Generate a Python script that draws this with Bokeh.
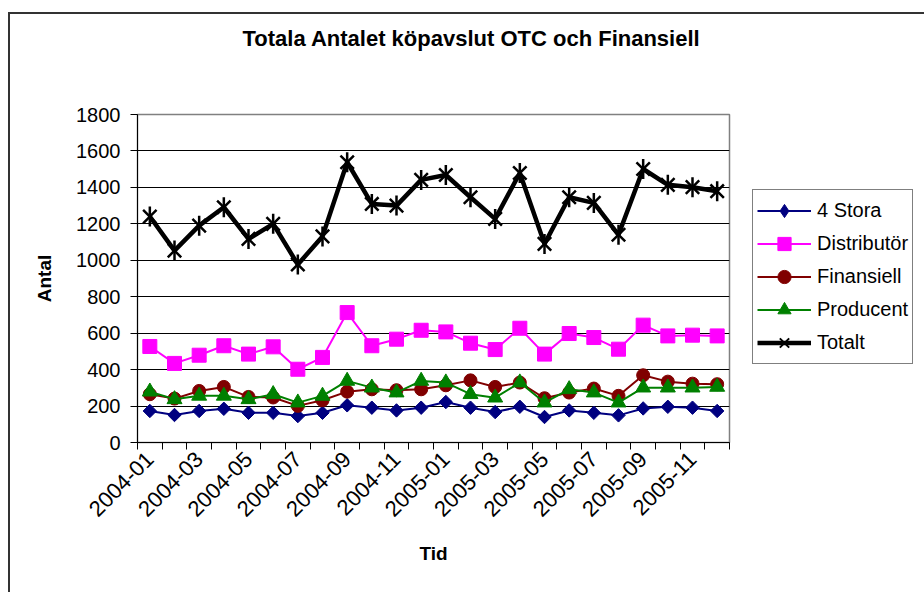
import math
from bokeh.plotting import figure
from bokeh.layouts import row
from bokeh.models import (Range1d, FixedTicker, Legend, LegendItem, Title,
                          ColumnDataSource)
from bokeh.embed import file_html
from bokeh.resources import INLINE

months = ["2004-01", "2004-02", "2004-03", "2004-04", "2004-05", "2004-06",
          "2004-07", "2004-08", "2004-09", "2004-10", "2004-11", "2004-12",
          "2005-01", "2005-02", "2005-03", "2005-04", "2005-05", "2005-06",
          "2005-07", "2005-08", "2005-09", "2005-10", "2005-11", "2005-12"]

stora = [173, 151, 173, 185, 163, 163, 145, 163, 204, 191, 176, 191,
         222, 191, 167, 196, 140, 176, 163, 149, 187, 196, 191, 173]
distributor = [527, 434, 479, 531, 485, 525, 402, 467, 713, 531, 567, 616,
               607, 545, 510, 627, 485, 598, 576, 512, 644, 585, 589, 585]
finansiell = [265, 241, 283, 305, 250, 247, 201, 232, 279, 292, 287, 292,
              314, 341, 305, 329, 243, 274, 296, 256, 369, 334, 323, 320]
producent = [279, 237, 256, 256, 237, 265, 219, 256, 338, 301, 274, 338,
             329, 265, 246, 329, 219, 292, 274, 219, 301, 301, 301, 305]
totalt = [1240, 1053, 1190, 1291, 1117, 1200, 977, 1131, 1538, 1309, 1300, 1441,
          1468, 1346, 1227, 1479, 1090, 1346, 1315, 1140, 1501, 1414, 1401, 1379]

series_names = ["4 Stora", "Distributör", "Finansiell", "Producent", "Totalt"]
y_ticks = [0, 200, 400, 600, 800, 1000, 1200, 1400, 1600, 1800]
tick_labels = months[::2]

FONT = "Liberation Sans"
BORDER = "#333333"

xs = [i + 0.5 for i in range(len(months))]
src = ColumnDataSource(dict(x=xs, stora=stora, distributor=distributor,
                            finansiell=finansiell, producent=producent,
                            totalt=totalt))

# ---------------- main chart ----------------
p = figure(width=752, height=592, output_backend="svg", toolbar_location=None,
           title=None,
           x_range=Range1d(0, len(months)), y_range=Range1d(0, 1800),
           min_border_left=137, min_border_right=23,
           min_border_top=114, min_border_bottom=150)

p.background_fill_color = "white"
p.border_fill_color = None
p.styles = {
    "background": f"linear-gradient({BORDER}, {BORDER}) 8px 12px / 2px 100% no-repeat, "
                  f"linear-gradient({BORDER}, {BORDER}) 8px 12px / 100% 2px no-repeat, "
                  "#ffffff"
}
p.outline_line_color = "#808080"
p.outline_line_width = 1.5

# title: a thin spacer next to the frame, the real title above it
spacer = Title(text=" ", text_font_size="1px", standoff=60)
p.add_layout(spacer, "above")
main_title = Title(text="Totala Antalet köpavslut OTC och Finansiell",
                   align="left", offset=105, standoff=2,
                   text_font=FONT, text_font_style="bold",
                   text_font_size="22px", text_color="black")
p.add_layout(main_title, "above")

# grid
p.xgrid.visible = False
p.ygrid.ticker = FixedTicker(ticks=y_ticks)
p.ygrid.grid_line_color = "black"
p.ygrid.grid_line_width = 1

# y axis
p.yaxis.ticker = FixedTicker(ticks=y_ticks)
p.yaxis.axis_line_color = "black"
p.yaxis.major_tick_line_color = "black"
p.yaxis.major_tick_out = 7
p.yaxis.major_tick_in = 0
p.yaxis.minor_tick_line_color = None
p.yaxis.major_label_text_font = FONT
p.yaxis.major_label_text_font_size = "20px"
p.yaxis.major_label_text_color = "black"
p.yaxis.major_label_standoff = 10
p.yaxis.axis_label = "Antal"
p.yaxis.axis_label_text_font = FONT
p.yaxis.axis_label_text_font_style = "bold"
p.yaxis.axis_label_text_font_size = "19px"
p.yaxis.axis_label_text_color = "black"
p.yaxis.axis_label_standoff = 18

# x axis
label_pos = [i + 0.5 for i in range(0, len(months), 2)]
p.xaxis.ticker = FixedTicker(ticks=label_pos,
                             minor_ticks=list(range(len(months) + 1)))
p.xaxis.major_label_overrides = {pos: lab for pos, lab in zip(label_pos, tick_labels)}
p.xaxis.major_tick_line_color = None
p.xaxis.minor_tick_line_color = "black"
p.xaxis.minor_tick_out = 7
p.xaxis.minor_tick_in = 0
p.xaxis.axis_line_color = "black"
p.xaxis.major_label_orientation = math.pi / 4
p.xaxis.major_label_text_font = FONT
p.xaxis.major_label_text_font_size = "22px"
p.xaxis.major_label_text_color = "black"
p.xaxis.major_label_standoff = 6
p.xaxis.axis_label = "Tid"
p.xaxis.axis_label_text_font = FONT
p.xaxis.axis_label_text_font_style = "bold"
p.xaxis.axis_label_text_font_size = "19px"
p.xaxis.axis_label_text_color = "black"
p.xaxis.axis_label_standoff = 17

# series styles
navy, magenta, darkred, green = "#000080", "#FF00FF", "#800000", "#008000"
styles = [
    dict(col="stora", color=navy, marker="square", angle=math.pi / 4, size=9.5,
         leg_marker="diamond", leg_angle=0),
    dict(col="distributor", color=magenta, marker="square", angle=0, size=14,
         leg_marker="square", leg_angle=0),
    dict(col="finansiell", color=darkred, marker="circle", angle=0, size=13,
         leg_marker="circle", leg_angle=0),
    dict(col="producent", color=green, marker="triangle", angle=0, size=15,
         leg_marker="triangle", leg_angle=0),
]
for st in styles:
    p.line("x", st["col"], source=src, line_color=st["color"], line_width=2)
    p.scatter("x", st["col"], source=src, marker=st["marker"], angle=st["angle"],
              size=st["size"], fill_color=st["color"], line_color=st["color"])
p.line("x", "totalt", source=src, line_color="black", line_width=4.5)
p.scatter("x", "totalt", source=src, marker="x", size=19,
          line_color="black", line_width=2.5)
p.scatter("x", "totalt", source=src, marker="dash", angle=math.pi / 2,
          size=20, line_color="black", line_width=2.5)

# ---------------- legend panel ----------------
# same series, drawn outside this panel's visible range: only the legend shows
q = figure(width=172, height=592, output_backend="svg", toolbar_location=None,
           title=None,
           x_range=Range1d(1000, 1001), y_range=Range1d(0, 1800),
           x_axis_type=None, y_axis_type=None,
           min_border_left=0, min_border_right=0,
           min_border_top=114, min_border_bottom=150)
q.background_fill_color = None
q.border_fill_color = None
q.outline_line_color = None
q.xgrid.visible = False
q.ygrid.visible = False
q.styles = {
    "background": f"linear-gradient({BORDER}, {BORDER}) 0px 12px / 100% 2px no-repeat, "
                  "#ffffff"
}

items = []
for name, st in zip(series_names[:4], styles):
    r_line = q.line("x", st["col"], source=src, line_color=st["color"], line_width=2)
    r_mark = q.scatter("x", st["col"], source=src, marker=st["leg_marker"],
                       angle=st["leg_angle"], fill_color=st["color"],
                       line_color=st["color"])
    items.append(LegendItem(label=name, renderers=[r_line, r_mark]))
t_line = q.line("x", "totalt", source=src, line_color="black", line_width=4.5)
t_x = q.scatter("x", "totalt", source=src, marker="x", line_color="black", line_width=2)
t_d = q.scatter("x", "totalt", source=src, marker="dash", angle=math.pi / 2,
                line_color="black", line_width=2)
items.append(LegendItem(label=series_names[4], renderers=[t_line, t_x, t_d]))

legend = Legend(items=items, location=(0, 78))
legend.glyph_width = 54
legend.glyph_height = 33
legend.label_height = 33
legend.spacing = 0
legend.padding = 4
legend.margin = 0
legend.label_standoff = 6
legend.label_text_font = FONT
legend.label_text_font_size = "20px"
legend.label_text_color = "black"
legend.border_line_color = "black"
legend.border_line_width = 1
legend.background_fill_color = "white"
legend.background_fill_alpha = 1
q.add_layout(legend)

layout = row(p, q, spacing=0)
open("out.html", "w").write(file_html(layout, INLINE))
